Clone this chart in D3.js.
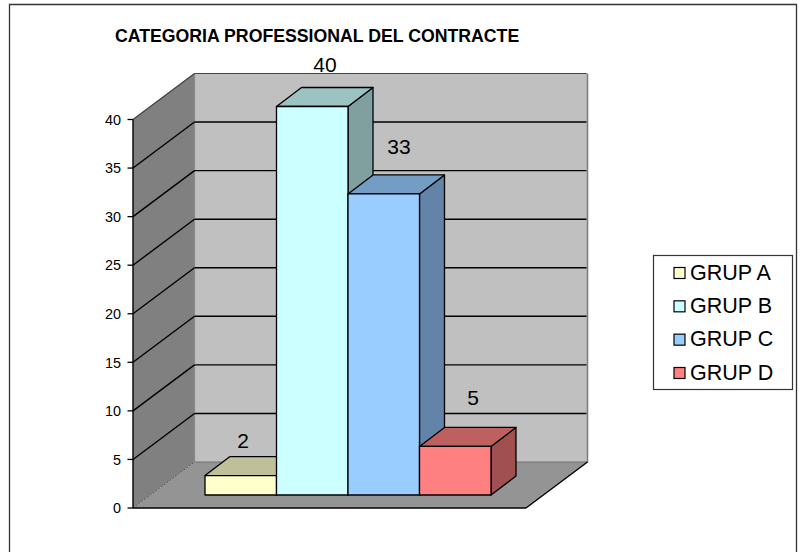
<!DOCTYPE html>
<html><head><meta charset="utf-8">
<script src="https://cdn.jsdelivr.net/npm/d3@7"></script>
<style>html,body{margin:0;padding:0;background:#fff}svg{display:block}text{font-family:"Liberation Sans",Arial,sans-serif;fill:#000}</style>
</head><body><svg id="c" width="802" height="552"></svg>
<script>
const categories = ["GRUP A","GRUP B","GRUP C","GRUP D"];
const barValues = [2,40,31,5];
const dataLabels = ["2","40","33","5"];
const frontColors = ["#FFFFCC","#CCFFFF","#99CCFF","#FF8080"];
const topColors = ["#BFBF99","#9BC3C1","#739DC5","#BF6060"];
const sideColors = ["#9E9E80","#80A09F","#6383A8","#A05050"];
const yTicks = [0,5,10,15,20,25,30,35,40];
const chartTitle = "CATEGORIA PROFESSIONAL DEL CONTRACTE";

const svg = d3.select("#c");
const y = d3.scaleLinear().domain([0,40]).range([508,119.5]);
const W = {x0:133,x1:526,dx:61.5,dy:46};
const x = d3.scaleBand().domain(categories).range([205,491]).paddingInner(0).paddingOuter(0);
const base = {dx:0,dy:-13}, depth = {dx:25,dy:-19};
const poly=(pts,fill,stroke,sw)=>svg.append("polygon").attr("points",pts.map(p=>p.join(",")).join(" ")).attr("fill",fill).attr("stroke",stroke||"none").attr("stroke-width",sw||0).attr("stroke-linejoin","round");
const line=(a,b,c,sw,dash)=>svg.append("line").attr("x1",a[0]).attr("y1",a[1]).attr("x2",b[0]).attr("y2",b[1]).attr("stroke",c).attr("stroke-width",sw).attr("stroke-dasharray",dash||null);

// outer frame
svg.append("path").attr("d","M9.5,552V4.5H796.5V552").attr("fill","none").attr("stroke","#333").attr("stroke-width",1.3);

// walls and floor
const yb=v=>y(v)-W.dy, xb=W.x0+W.dx, xe=W.x1+W.dx;
poly([[xb,yb(0)],[xb,yb(40)],[xe,yb(40)],[xe,yb(0)]],"#C0C0C0");
poly([[W.x0,y(0)],[W.x0,y(40)],[xb,yb(40)],[xb,yb(0)]],"#808080");
poly([[W.x0,y(0)],[xb,yb(0)],[xe,yb(0)],[W.x1,y(0)]],"#949494");
line([xb,yb(40)],[xb,yb(0)],"#8a8a8a",1.2);
line([xe,yb(40)],[xe,yb(0)],"#808080",1.6);
line([xb,yb(0)],[xe,yb(0)],"#707070",1);
line([W.x0,y(0)],[xb,yb(0)],"#555",1,"2,1.5");

// gridlines
yTicks.filter(t=>t>0&&t<=40).forEach(t=>{
  const col = t===40?"#444":"#000";
  line([W.x0,y(t)],[xb,yb(t)],col,1.4);
  line([xb,yb(t)],[xe-1,yb(t)],col,t===40?1:1.4);
});

// axes
line([W.x0,y(0)],[W.x0,y(40)],"#000",1.4);
line([W.x0,y(0)],[W.x1,y(0)],"#000",1.5);
line([W.x1,y(0)],[xe,yb(0)],"#000",1.4);
yTicks.forEach(t=>{
  line([127.5,y(t)],[W.x0,y(t)],"#000",1.3);
  svg.append("text").attr("x",121).attr("y",y(t)+5.2).attr("text-anchor","end").attr("font-size",14.4).text(t);
});

// bars
const unit = y(0)-y(1);
categories.forEach((c,i)=>{
  const l=x(c), r=l+x.bandwidth(), b=y(0)+base.dy, t=b-barValues[i]*unit;
  poly([[r,t],[r+depth.dx,t+depth.dy],[r+depth.dx,b+depth.dy],[r,b]],sideColors[i],"#000",1.3);
  poly([[l,t],[l+depth.dx,t+depth.dy],[r+depth.dx,t+depth.dy],[r,t]],topColors[i],"#000",1.3);
  poly([[l,t],[r,t],[r,b],[l,b]],frontColors[i],"#000",1.3);
});

// data labels
const labelPos = [[243,448],[325,71.5],[399,154],[473,405]];
dataLabels.forEach((s,i)=>svg.append("text").attr("x",labelPos[i][0]).attr("y",labelPos[i][1]).attr("text-anchor","middle").attr("font-size",21).text(s));

// title
svg.append("text").attr("x",115).attr("y",42).attr("font-size",17.7).attr("font-weight","bold").text(chartTitle);

// legend
svg.append("rect").attr("x",653.5).attr("y",255.5).attr("width",139).attr("height",134).attr("fill","#fff").attr("stroke","#333").attr("stroke-width",1.2);
const ly = d3.scalePoint().domain(categories).range([273,373]);
categories.forEach((c,i)=>{
  svg.append("rect").attr("x",674).attr("y",ly(c)-5.5).attr("width",11).attr("height",11).attr("fill",frontColors[i]).attr("stroke","#000").attr("stroke-width",1.2);
  svg.append("text").attr("x",690).attr("y",ly(c)+6.5).attr("font-size",21.5).text(c);
});
</script></body></html>
